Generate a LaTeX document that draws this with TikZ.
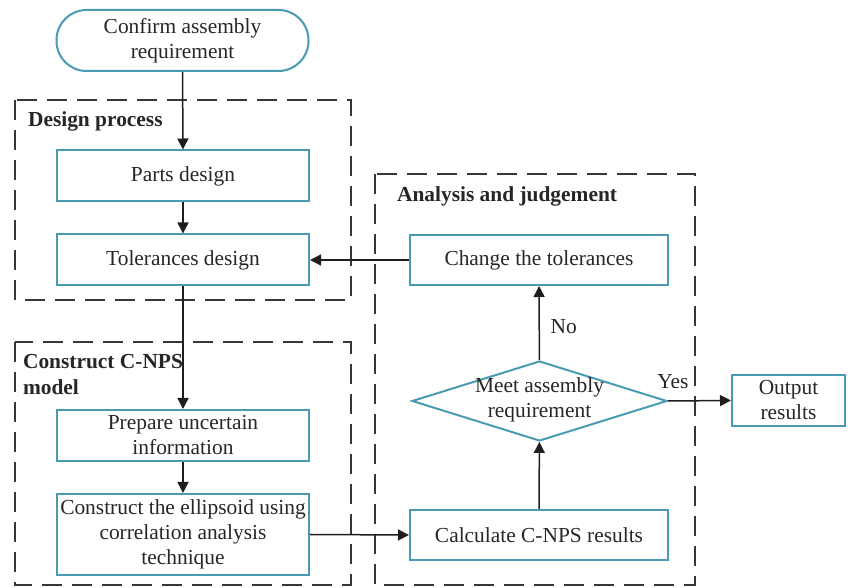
\documentclass[tikz,border=0pt]{standalone}
\usepackage{fontspec}
\setmainfont{Liberation Serif}
\usetikzlibrary{shapes.geometric,arrows.meta}
\definecolor{boxc}{RGB}{72,155,178}
\definecolor{dashc}{RGB}{55,55,55}
\definecolor{linec}{RGB}{30,30,30}
\begin{document}
\begin{tikzpicture}[x=0.5pt,y=-0.5pt,
  every node/.style={font=\fontsize{10.7}{12.5}\selectfont, text=black!85},
  proc/.style={draw=boxc, line width=1pt, rectangle, minimum width=126pt, minimum height=25.5pt, inner sep=1pt, align=center},
  term/.style={proc, rounded corners=15pt, minimum height=30.5pt},
  decis/.style={draw=boxc, line width=1pt, diamond, minimum width=127.5pt, minimum height=40pt, inner sep=0pt},
  grp/.style={draw=dashc, line width=1pt, dash pattern=on 10pt off 5pt},
  grplabel/.style={font=\fontsize{10.7}{13}\selectfont\bfseries, anchor=west, align=left},
  arr/.style={draw=linec, line width=0.75pt, -{Triangle[length=5.5pt,width=5.5pt]}}
]
\useasboundingbox (0,0) rectangle (848,588);
% group frames
\draw[grp] (15,100) rectangle (351,300);
\draw[grp] (15,342) rectangle (351,585);
\draw[grp] (375,174) rectangle (695,585);
\node[grplabel] (lab1) at (21,121) {Design process};
\node[grplabel] (lab2) at (16,375) {Construct C-NPS\\model};
\node[grplabel] (lab3) at (390,196) {Analysis and judgement};
% nodes
\node[term] (start) at (182.5,40.5) {Confirm assembly\\requirement};
\node[proc] (parts) at (183,176) {Parts design};
\node[proc] (tol) at (183,260) {Tolerances design};
\node[proc] (prep) at (183,435.5) {Prepare uncertain\\information};
\node[proc, minimum height=40.5pt] (cons) at (183,534.5) {Construct the ellipsoid using\\correlation analysis\\technique};
\node[proc, minimum width=129pt, minimum height=25pt] (change) at (539,260) {Change the tolerances};
\node[decis] (dia) at (539.5,401) {};
\node (diatext) at (539.5,400) [align=center] {Meet assembly\\requirement};
\node[proc, minimum width=129pt, minimum height=25pt] (calc) at (539,535) {Calculate C-NPS results};
\node[proc, minimum width=56.5pt] (out) at (788.5,400.5) {Output\\results};
% connectors
\draw[arr] (start) -- (parts);
\draw[arr] (parts) -- (tol);
\draw[arr] (tol) -- (prep);
\draw[arr] (prep) -- (cons);
\draw[arr] (cons.east) -- (calc.west);
\draw[arr] (calc) -- (dia);
\draw[arr] (dia) -- node[right, xshift=2pt, pos=0.45] (no) {No} (change);
\draw[arr] (change.west) -- (tol.east);
\draw[arr] (dia.east) -- (out.west);
\node (yes) at (673,382) {Yes};
\end{tikzpicture}
\end{document}
